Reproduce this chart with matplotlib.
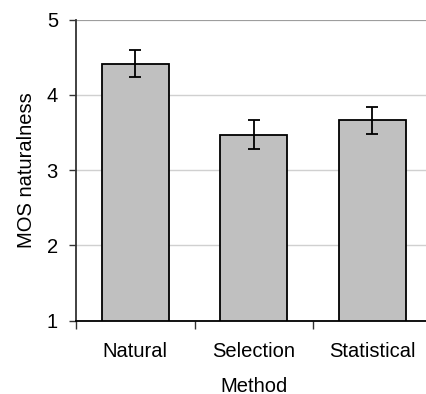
import numpy as np
import matplotlib.pyplot as plt

methods = ["Natural", "Selection", "Statistical"]
mos = [4.41, 3.47, 3.66]
err = [0.18, 0.19, 0.18]

plt.rcParams['font.family'] = ['Liberation Sans', 'DejaVu Sans']

fig = plt.figure(figsize=(4.27, 3.94), dpi=100)
ax = fig.add_axes([76 / 427, 1 - 320.7 / 394, (431.5 - 76) / 427, (320.7 - 19.5) / 394])

x = np.arange(len(methods))
ax.bar(x, [m - 1 for m in mos], bottom=1, width=0.565, color="#c0c0c0",
       edgecolor="black", linewidth=1.3, zorder=3)
ax.errorbar(x, mos, yerr=err, fmt="none", ecolor="black", elinewidth=1.3,
            capsize=4.3, capthick=1.3, zorder=4)

ax.set_xlim(-0.5, 2.5)
ax.set_ylim(1, 5)
ax.set_yticks([1, 2, 3, 4, 5])
ax.yaxis.grid(True, color="#d0d0d0", linewidth=1)
ax.set_axisbelow(True)
ax.axhline(5, color="#999999", linewidth=1.3, zorder=2)

# category labels centred, ticks at category boundaries
ax.set_xticks(x)
ax.set_xticklabels(methods)
ax.set_xticks([-0.5, 0.5, 1.5], minor=True)
ax.tick_params(axis="x", which="major", length=0, pad=15, labelsize=14.5)
ax.tick_params(axis="x", which="minor", length=6, width=1, color="#333333")
ax.tick_params(axis="y", length=5, width=1, color="#333333", labelsize=14.5, pad=8)

for s in ["top", "right"]:
    ax.spines[s].set_visible(False)
ax.spines["left"].set_color("#333333")
ax.spines["left"].set_linewidth(1.3)
ax.spines["bottom"].set_color("black")
ax.spines["bottom"].set_linewidth(1.3)

ax.set_xlabel("Method", fontsize=14.5, labelpad=11.5)
ax.set_ylabel("MOS naturalness", fontsize=14.5, labelpad=8)

fig.savefig("out.png", dpi=100)
